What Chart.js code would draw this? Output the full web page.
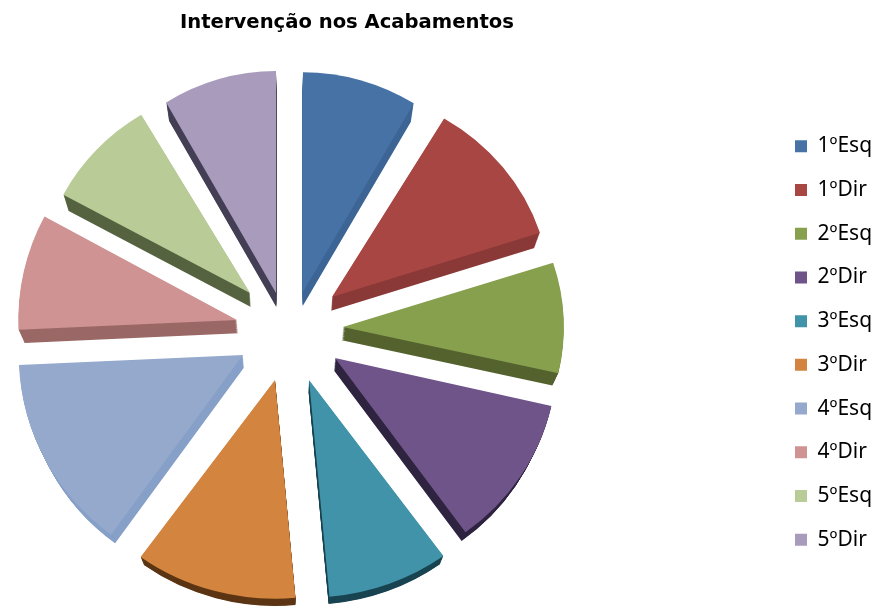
<!DOCTYPE html>
<html>
<head>
<meta charset="utf-8">
<title>Intervenção nos Acabamentos</title>
<script src="https://cdn.jsdelivr.net/npm/chart.js@4/dist/chart.umd.min.js"></script>
<style>
  html, body { margin: 0; background: #fff; }
  canvas { display: block; }
</style>
</head>
<body>
<canvas id="pie" width="875" height="609"></canvas>
<script>
// --- Data ---
const chartTitle = "Intervenção nos Acabamentos";
const floors = ["1ºEsq", "1ºDir", "2ºEsq", "2ºDir", "3ºEsq", "3ºDir", "4ºEsq", "4ºDir", "5ºEsq", "5ºDir"];
const counts = [3, 4, 3, 4, 3, 4, 5, 3, 3, 3];
const faceColors = ["#4672a6", "#a84644", "#87a04e", "#6f5489", "#4093a9", "#d3853f", "#94a9cc", "#ce9392", "#b9cb97", "#a99bbb"];
const sideColors = ["#3d6595", "#8a3a38", "#55632f", "#2f2440", "#1a4552", "#5c3615", "#86a0c8", "#9a6866", "#566340", "#443f55"];

// --- Layout numbers ---
const CX = 289, CY = 336, RADIUS = 222;
const DEPTH = 13;          // extrusion
const BACK_SCALE = 0.978;  // back face is a bit smaller (perspective)
const STEPS = 16;
// how far each slice is pulled out, and its perspective size
const explodeX = [14, 43, 54, 46, 20, -14, -46, -52, -39, -13];
const explodeY = [-44, -39, -9, 22, 44, 44, 19, -16, -43, -43];
const sliceScaleX = [0.973, 0.985, 0.995, 1, 1.03, 1.03, 1.01, 0.985, 0.955, 0.965];
const sliceScaleY = [0.99, 0.937, 0.937, 0.97, 0.98, 0.985, 1, 0.985, 0.935, 1];

// puts title, legend and pie where the reference has them
const placeBoxes = {
  id: "placeBoxes",
  afterLayout(chart) {
    chart.chartArea.left = CX - RADIUS;
    chart.chartArea.right = CX + RADIUS;
    chart.chartArea.top = CY - RADIUS;
    chart.chartArea.bottom = CY + RADIUS;
    chart.chartArea.width = chart.chartArea.height = RADIUS * 2;
    chart.titleBlock.left = 0;
    chart.titleBlock.right = 694;
    const legend = chart.legend;
    const shift = 343 - (legend.top + legend.bottom) / 2;
    legend.top += shift;
    legend.bottom += shift;
    legend.left = 795 - legend.options.labels.padding;
    legend.right = 875;
  }
};

// draws the extruded sides, then the faces
const exploded3d = {
  id: "exploded3d",
  beforeDatasetsDraw(chart) {
    const ctx = chart.ctx;
    const arcs = chart.getDatasetMeta(0).data;
    const moveOut = (i) => {
      ctx.translate(CX + explodeX[i], CY + explodeY[i]);
      ctx.scale(sliceScaleX[i], sliceScaleY[i]);
      ctx.translate(-CX, -CY);
    };
    arcs.forEach((arc, i) => {
      const fill = arc.options.backgroundColor;
      arc.options.backgroundColor = sideColors[i];
      for (let s = STEPS; s > 0; s--) {
        const t = s / STEPS;
        const k = 1 - (1 - BACK_SCALE) * t;
        ctx.save();
        ctx.translate(CX, CY + DEPTH * t);
        ctx.scale(k, k);
        ctx.translate(-CX, -CY);
        moveOut(i);
        arc.draw(ctx);
        ctx.restore();
      }
      arc.options.backgroundColor = fill;
    });
    arcs.forEach((arc, i) => {
      ctx.save();
      moveOut(i);
      arc.draw(ctx);
      ctx.restore();
    });
    return false;
  }
};

new Chart(document.getElementById("pie"), {
  type: "pie",
  data: {
    labels: floors,
    datasets: [{
      data: counts,
      backgroundColor: faceColors,
      borderWidth: 0,
      radius: RADIUS
    }]
  },
  options: {
    responsive: false,
    animation: false,
    plugins: {
      tooltip: { enabled: false },
      title: {
        display: true,
        text: chartTitle,
        color: "#000",
        font: { family: "DejaVu Sans", size: 19.6, weight: "bold" },
        padding: { top: 11, bottom: 10 }
      },
      legend: {
        position: "right",
        labels: {
          color: "#000",
          font: { family: "Noto Sans", size: 21 },
          boxWidth: 12,
          boxHeight: 12,
          padding: 22.7
        }
      }
    }
  },
  plugins: [placeBoxes, exploded3d]
});
</script>
</body>
</html>
